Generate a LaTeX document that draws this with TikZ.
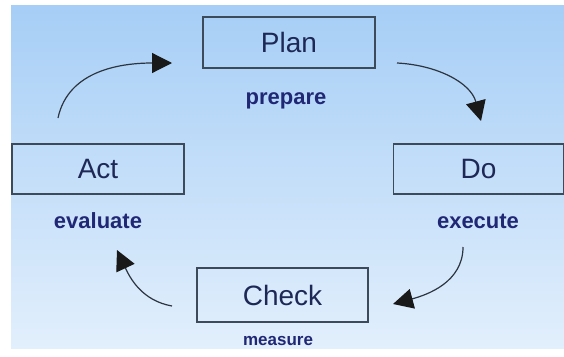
\documentclass[tikz,border=0pt]{standalone}
\usepackage{fontspec}
\setmainfont{Liberation Sans}
\usetikzlibrary{arrows.meta}
\definecolor{bgtop}{RGB}{166,206,246}
\definecolor{bgbot}{RGB}{226,239,252}
\definecolor{boxline}{RGB}{60,74,90}
\definecolor{labelcol}{RGB}{30,40,86}
\definecolor{subcol}{RGB}{32,40,118}
\definecolor{arrowcol}{RGB}{44,52,64}
\tikzset{
  stagebox/.style={draw=boxline, line width=1.5pt, rectangle, inner sep=0pt,
    text=labelcol, font=\fontsize{28}{30}\selectfont},
  subtitle/.style={anchor=base, text=subcol, font=\bfseries\fontsize{22}{24}\selectfont, inner sep=0pt},
  smallsub/.style={anchor=base, text=subcol, font=\bfseries\fontsize{17}{19}\selectfont, inner sep=0pt},
  cyclearrow/.style={draw=arrowcol, line width=1.2pt,
    -{Triangle[length=20pt,width=20pt,fill=black!90,color=black!90]}}
}
\begin{document}
\begin{tikzpicture}[x=1pt,y=-1pt]
\useasboundingbox (0,0) rectangle (564,356);
\shade[top color=bgtop, bottom color=bgbot] (11,5) rectangle (564,348);

\node[stagebox, minimum width=172pt, minimum height=51pt] (plan) at (289,42.5) {Plan};
\node[stagebox, minimum width=172pt, minimum height=50pt] (act) at (98,169) {Act};
\node[stagebox, minimum width=170pt, minimum height=50pt] (do) at (478.5,169) {Do};
\node[stagebox, minimum width=171pt, minimum height=54pt] (check) at (282.5,295) {Check};

\node[subtitle] (prep) at (286,104) {prepare};
\node[subtitle] (eval) at (98,228) {evaluate};
\node[subtitle] (exec) at (478,228) {execute};
\node[smallsub] (meas) at (278,345) {measure};

\coordinate (pd1) at (397,63);
\coordinate (pd2) at (481,121);
\coordinate (dc1) at (463,247);
\coordinate (dc2) at (393,304);
\coordinate (ca1) at (172,306);
\coordinate (ca2) at (117,250);
\coordinate (ap1) at (58,118);
\coordinate (ap2) at (172,63);

\draw[cyclearrow] (pd1) to[out=-3, in=105] (pd2);
\draw[cyclearrow] (dc1) to[out=-90, in=15] (dc2);
\draw[cyclearrow] (ca1) to[out=170, in=-65] (ca2);
\draw[cyclearrow] (ap1) to[out=78, in=180] (ap2);
\end{tikzpicture}
\end{document}
